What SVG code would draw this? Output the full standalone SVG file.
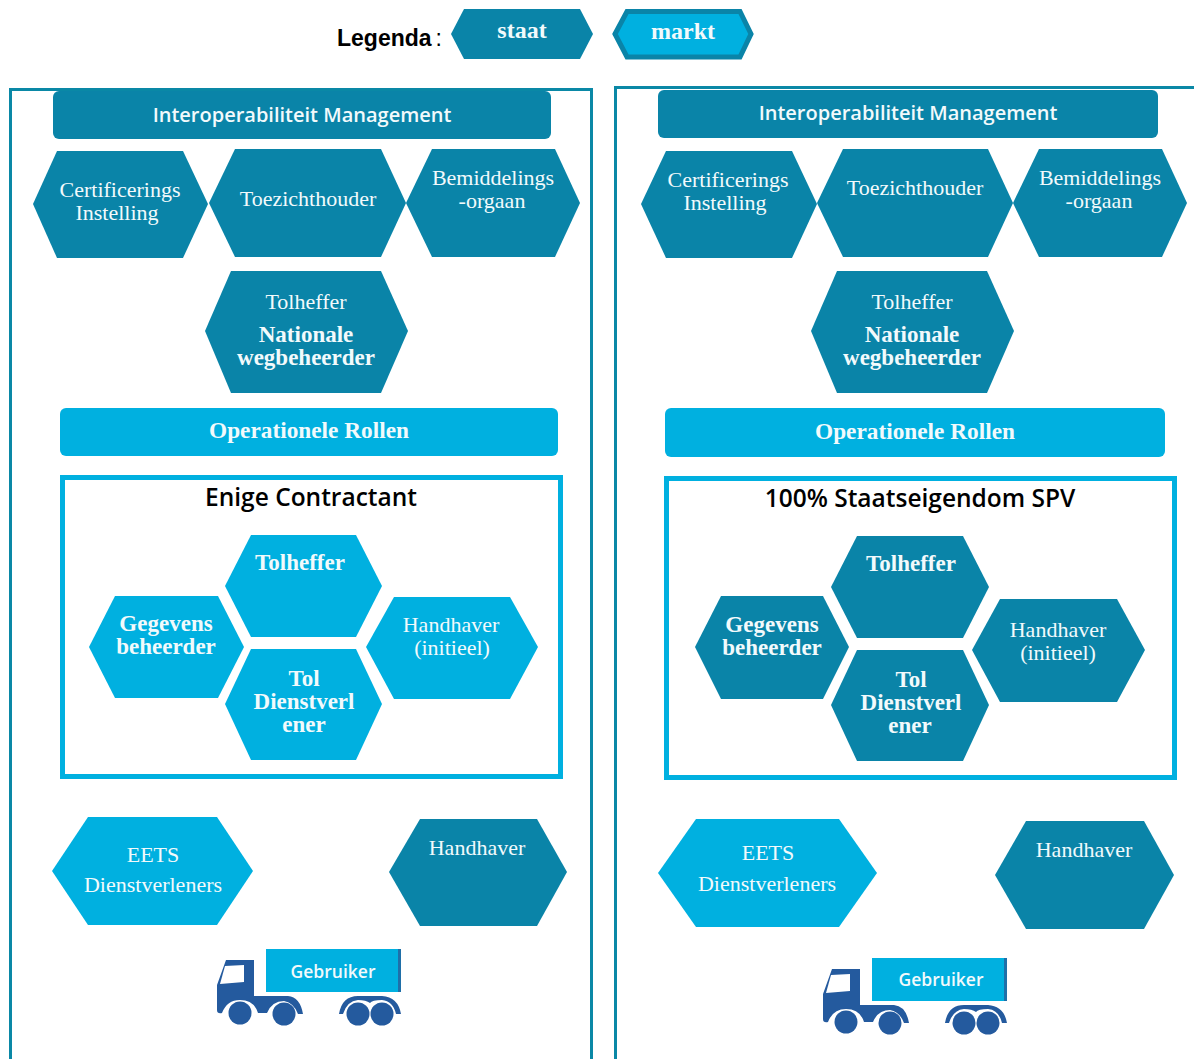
<svg xmlns="http://www.w3.org/2000/svg" width="1194" height="1059" viewBox="0 0 1194 1059">
<style>
.s{fill:#0a84a8}
.m{fill:#00b0e0}
.t{font-family:"Liberation Serif",serif;fill:#f2fafc;text-anchor:middle;font-size:22px}
.b{font-weight:bold;font-size:23px}
.o{font-weight:bold;font-size:23.300px}
.l{font-weight:bold;font-size:24px}
.u{font-family:"Open Sans","Liberation Sans",sans-serif;fill:#f2fafc;text-anchor:middle;font-size:20px;font-weight:600}
.g{font-size:17.500px}
.h{font-family:"Open Sans","Liberation Sans",sans-serif;fill:#000;text-anchor:middle;font-size:24.500px;font-weight:600}
.f{fill:none;stroke:#0a88a6;stroke-width:3}
.i{fill:none;stroke:#00b0e0;stroke-width:5}
.k{fill:#245a9e}
</style>
<defs>
<g id="truck">
<rect x="266" y="949" width="134" height="43" fill="#00b0e0"/>
<rect x="398" y="949" width="3" height="43" fill="#1f6fa8"/>
<path class="k" d="M226 960H254V996H288Q300 997 303 1014H298Q294 1003 284 1001Q272 1001 267 1013H258Q254 1000 240 1000Q227 1000 222 1013Q217 1014 217 1010V985Z"/>
<path fill="#fff" d="M225 966L244 965V982L220 984Z"/>
<circle class="k" cx="240" cy="1013" r="11.500"/>
<circle class="k" cx="284" cy="1014" r="11.500"/>
<circle class="k" cx="358" cy="1014" r="11.500"/>
<circle class="k" cx="382" cy="1014" r="11.500"/>
<path class="k" d="M339 1014Q342 996 358 996H382Q398 997 401 1014H396Q393 1001 382 1000Q372 1000 370 1003Q366 1000 358 1000Q347 1001 343 1014Z"/>
</g>
</defs>
<g id="legend">
<text x="337" y="46" font-family="Liberation Sans,sans-serif" font-size="23" font-weight="bold" fill="#000">Legenda<tspan font-weight="normal" dx="4">:</tspan></text>
<g id="legend-staat"><polygon class="s" points="451,34 464,9 580,9 593,34 580,59 464,59"/><text class="t l" x="522" y="38">staat</text></g>
<g id="legend-markt"><polygon class="m" stroke="#0a84a8" stroke-width="5" points="615,34 627,11.500 740,11.500 751,34 740,57 627,57"/><text class="t l" x="683" y="39">markt</text></g>
</g>
<g id="frame-left"><path class="f" d="M10.500 1059V89.500H591.500V1059"/></g>
<g id="frame-right"><path class="f" d="M615.500 1059V87.500H1194"/></g>

<g id="l-mgmt"><rect class="s" x="53" y="91" width="498" height="48" rx="6"/><text class="u" x="302" y="122">Interoperabiliteit Management</text></g>
<g id="l-cert"><polygon class="s" points="33,204 57,151 183,151 208,204 183,258 57,258"/><text class="t" x="120" y="197">Certificerings</text><text class="t" x="117" y="220">Instelling</text></g>
<g id="l-toez"><polygon class="s" points="209,203 235,149 381,149 406,203 381,257 235,257"/><text class="t" x="308" y="206">Toezichthouder</text></g>
<g id="l-bemi"><polygon class="s" points="406,203 432,149 555,149 580,203 555,257 432,257"/><text class="t" x="493" y="185">Bemiddelings</text><text class="t" x="492" y="208">-orgaan</text></g>
<g id="l-tol"><polygon class="s" points="205,331 231,271 381,271 408,331 381,393 231,393"/><text class="t" x="306" y="309">Tolheffer</text><text class="t b" x="306" y="342">Nationale</text><text class="t b" x="306" y="365">wegbeheerder</text></g>
<g id="l-oper"><rect class="m" x="60" y="408" width="498" height="48" rx="6"/><text class="t o" x="309" y="438">Operationele Rollen</text></g>
<g id="l-box"><rect class="i" x="62.500" y="477.500" width="498" height="299"/><text class="h" x="311" y="506">Enige Contractant</text></g>
<g id="l-tolh"><polygon class="m" points="225,586 251,535 356,535 382,586 356,637 251,637"/><text class="t b" x="300" y="570">Tolheffer</text></g>
<g id="l-gege"><polygon class="m" points="89,647 115,596 218,596 244,647 218,698 115,698"/><text class="t b" x="166" y="631">Gegevens</text><text class="t b" x="166" y="654">beheerder</text></g>
<g id="l-hand"><polygon class="m" points="366,647 394,597 510,597 538,647 510,699 394,699"/><text class="t" x="451" y="632">Handhaver</text><text class="t" x="452" y="655">(initieel)</text></g>
<g id="l-tdv"><polygon class="m" points="225,704 251,649 356,649 382,704 356,760 251,760"/><text class="t b" x="304" y="686">Tol</text><text class="t b" x="304" y="709">Dienstverl</text><text class="t b" x="304" y="732">ener</text></g>
<g id="l-eets"><polygon class="m" points="52,871 88,817 217,817 253,871 217,925 88,925"/><text class="t" x="153" y="862">EETS</text><text class="t" x="153" y="892">Dienstverleners</text></g>
<g id="l-hh"><polygon class="s" points="389,872 420,819 537,819 567,872 537,926 420,926"/><text class="t" x="477" y="855">Handhaver</text></g>
<g id="l-truck"><use href="#truck"/><text class="u g" x="333" y="978">Gebruiker</text></g>

<g id="r-mgmt"><rect class="s" x="658" y="90" width="500" height="48" rx="6"/><text class="u" x="908" y="120">Interoperabiliteit Management</text></g>
<g id="r-cert"><polygon class="s" points="641,204 666,151 792,151 817,204 792,258 666,258"/><text class="t" x="728" y="187">Certificerings</text><text class="t" x="725" y="210">Instelling</text></g>
<g id="r-toez"><polygon class="s" points="817,203 843,149 988,149 1013,203 988,257 843,257"/><text class="t" x="915" y="195">Toezichthouder</text></g>
<g id="r-bemi"><polygon class="s" points="1013,203 1039,149 1162,149 1187,203 1162,257 1039,257"/><text class="t" x="1100" y="185">Bemiddelings</text><text class="t" x="1099" y="208">-orgaan</text></g>
<g id="r-tol"><polygon class="s" points="811,331 837,271 987,271 1014,331 987,393 837,393"/><text class="t" x="912" y="309">Tolheffer</text><text class="t b" x="912" y="342">Nationale</text><text class="t b" x="912" y="365">wegbeheerder</text></g>
<g id="r-oper"><rect class="m" x="665" y="408" width="500" height="49" rx="6"/><text class="t o" x="915" y="439">Operationele Rollen</text></g>
<g id="r-box"><rect class="i" x="666.500" y="478.500" width="508" height="299"/><text class="h" x="920" y="507">100% Staatseigendom SPV</text></g>
<g id="r-tolh"><polygon class="s" points="831,587 857,536 963,536 989,587 963,638 857,638"/><text class="t b" x="911" y="571">Tolheffer</text></g>
<g id="r-gege"><polygon class="s" points="695,647 721,596 823,596 849,647 823,699 721,699"/><text class="t b" x="772" y="632">Gegevens</text><text class="t b" x="772" y="655">beheerder</text></g>
<g id="r-hand"><polygon class="s" points="972,650 1000,599 1117,599 1145,650 1117,702 1000,702"/><text class="t" x="1058" y="637">Handhaver</text><text class="t" x="1058" y="660">(initieel)</text></g>
<g id="r-tdv"><polygon class="s" points="831,705 857,650 963,650 989,705 963,761 857,761"/><text class="t b" x="911" y="687">Tol</text><text class="t b" x="911" y="710">Dienstverl</text><text class="t b" x="910" y="733">ener</text></g>
<g id="r-eets"><polygon class="m" points="658,873 696,819 839,819 877,873 839,927 696,927"/><text class="t" x="768" y="860">EETS</text><text class="t" x="767" y="891">Dienstverleners</text></g>
<g id="r-hh"><polygon class="s" points="995,875 1026,821 1144,821 1174,875 1144,929 1026,929"/><text class="t" x="1084" y="857">Handhaver</text></g>
<g id="r-truck"><use href="#truck" transform="translate(606 9)"/><text class="u g" x="941" y="986">Gebruiker</text></g>
<g id="connectors"/>
</svg>
